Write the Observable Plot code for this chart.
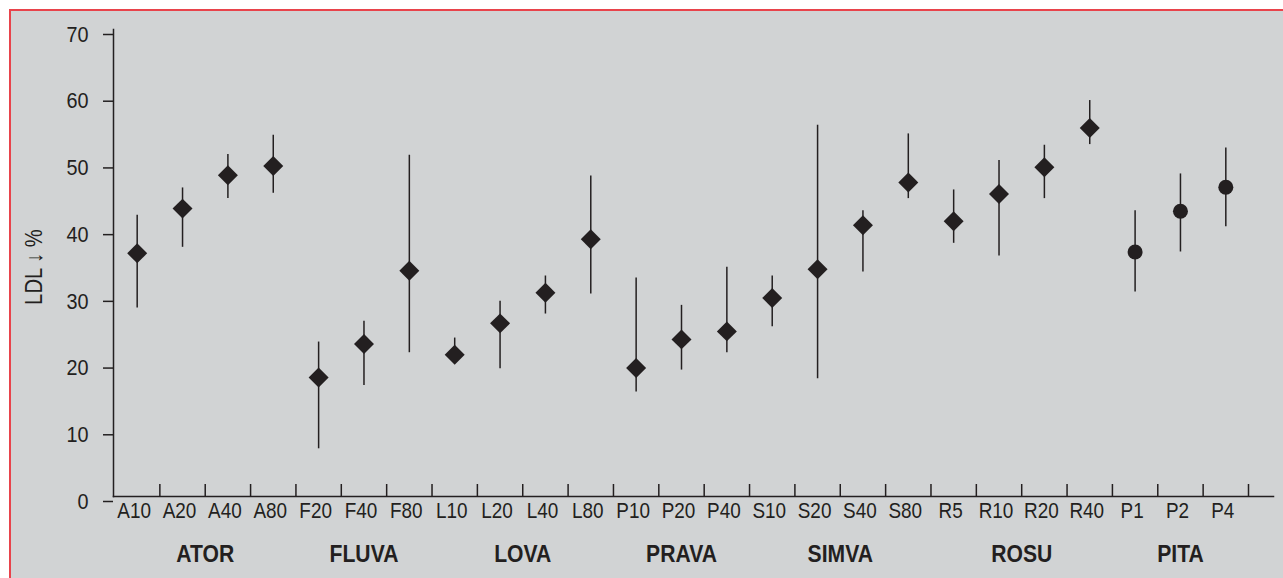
<!DOCTYPE html>
<html>
<head>
<meta charset="utf-8">
<script src="https://cdn.jsdelivr.net/npm/d3@7"></script>
<script src="https://cdn.jsdelivr.net/npm/@observablehq/plot@0.6"></script>
<style>
  html, body { margin: 0; padding: 0; background: #ffffff; width: 1283px; height: 578px; overflow: hidden; }
  #panel {
    position: absolute; left: 8.5px; top: 8.5px; right: 0; bottom: 0;
    background: #d1d3d4;
    border-top: 2px solid #e8434b;
    border-left: 2px solid #e8434b;
  }
  #chart { position: absolute; left: 0; top: 0; }
  #chart svg { background: transparent !important; }
</style>
</head>
<body>
<div id="panel"></div>
<div id="chart"></div>
<script>
// ---- data ----
const categories = ["A10","A20","A40","A80","F20","F40","F80","L10","L20","L40","L80",
  "P10","P20","P40","S10","S20","S40","S80","R5","R10","R20","R40","P1","P2","P4"];
const groupOf = ["ATOR","ATOR","ATOR","ATOR","FLUVA","FLUVA","FLUVA","LOVA","LOVA","LOVA","LOVA",
  "PRAVA","PRAVA","PRAVA","SIMVA","SIMVA","SIMVA","SIMVA","ROSU","ROSU","ROSU","ROSU","PITA","PITA","PITA"];
const meanValues = [37.2,43.9,48.9,50.3,18.6,23.6,34.6,22.0,26.7,31.3,39.3,
  20.0,24.3,25.5,30.5,34.8,41.4,47.8,42.0,46.1,50.1,56.0,37.4,43.5,47.1];
const lowValues  = [29.0,38.1,45.4,46.2,7.9,17.4,22.3,21.0,19.9,28.1,31.1,
  16.4,19.7,22.3,26.2,18.4,34.4,45.4,38.7,36.8,45.4,53.5,31.4,37.4,41.2];
const highValues = [42.9,47.0,52.0,54.9,23.9,27.0,51.9,24.5,30.0,33.8,48.8,
  33.5,29.4,35.1,33.8,56.4,43.6,55.1,46.7,51.1,53.4,60.1,43.6,49.1,53.0];
const yTicks = [0,10,20,30,40,50,60,70];
const yLabel = "LDL \u2193 %";

// ---- tables built from the arrays ----
const rows = categories.map((c, i) => ({i, cat: c, group: groupOf[i], mean: meanValues[i], lo: lowValues[i], hi: highValues[i]}));
const groupNames = [...new Set(groupOf)];
const groups = groupNames.map(g => {
  const idx = rows.filter(r => r.group === g).map(r => r.i);
  return {name: g, pos: (d3.min(idx) + d3.max(idx)) / 2};
});
const dividers = categories.map((c, i) => i + 0.5);

const ink = "#231f20";
const font = "'Liberation Sans', Arial, Helvetica, sans-serif";

const chart = Plot.plot({
  width: 1283,
  height: 578,
  marginLeft: 113,
  marginRight: 10,
  marginTop: 29,
  marginBottom: 82,
  style: {fontFamily: font, color: ink, background: "transparent"},
  x: {type: "linear", domain: [-0.5, categories.length - 0.5], range: [114, 1248]},
  y: {domain: [0, 70], range: [501, 34]},
  marks: [
    Plot.frame({anchor: "left", stroke: ink, strokeWidth: 1.5}),
    Plot.frame({anchor: "bottom", stroke: ink, strokeWidth: 1.5}),
    Plot.axisY({ticks: yTicks, tickSize: 10, tickPadding: 15, fontSize: 22.5, stroke: ink, strokeWidth: 1.5, fill: ink, label: null}),
    Plot.axisX({ticks: dividers, tickSize: -12, text: null, stroke: ink, strokeWidth: 1.5, label: null}),
    Plot.text(rows, {x: "i", text: "cat", frameAnchor: "bottom", dy: 21, dx: -3, fontSize: 21.5, fill: ink}),
    Plot.text(groups, {x: "pos", text: "name", frameAnchor: "bottom", dy: 65, fontSize: 24, fontWeight: "bold", fill: ink}),
    Plot.text([yLabel], {text: d => d, frameAnchor: "left", textAnchor: "middle", rotate: -90, dx: -79, dy: 4, fontSize: 23, fill: ink}),
    Plot.ruleX(rows, {x: "i", y1: "lo", y2: "hi", stroke: ink, strokeWidth: 1.5}),
    Plot.dot(rows.filter(r => r.group !== "PITA"), {x: "i", y: "mean", symbol: "diamond2", r: 9, fill: ink, stroke: "none"}),
    Plot.dot(rows.filter(r => r.group === "PITA"), {x: "i", y: "mean", symbol: "circle", r: 7.5, fill: ink, stroke: "none"})
  ]
});
document.getElementById("chart").appendChild(chart);

// The reference typeface is slightly condensed: narrow every label a little.
const squeeze = 0.88;
chart.querySelectorAll("text").forEach(t => {
  const len = t.getComputedTextLength();
  if (len > 0) {
    t.setAttribute("textLength", (len * squeeze).toFixed(2));
    t.setAttribute("lengthAdjust", "spacingAndGlyphs");
  }
});
</script>
</body>
</html>
